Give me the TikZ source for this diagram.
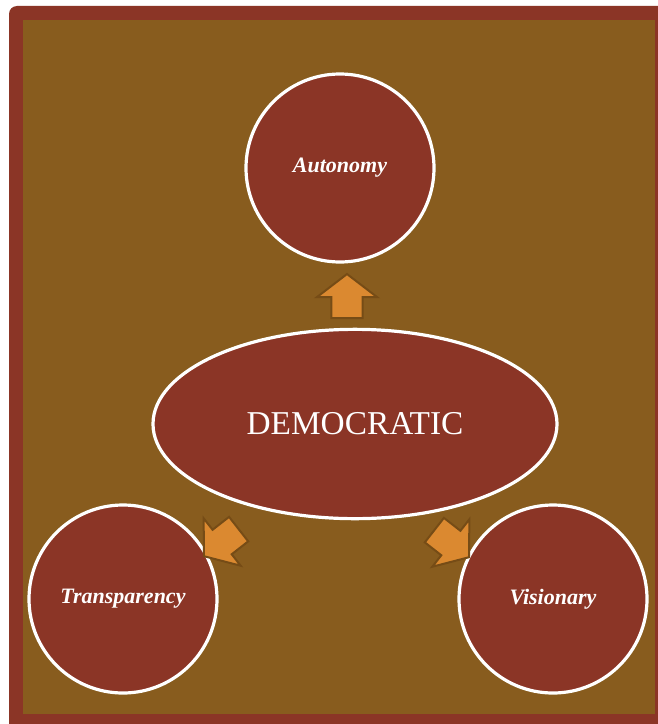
\documentclass[tikz,border=0pt]{standalone}
\usepackage{fontspec}
\setmainfont{Liberation Serif}
\usetikzlibrary{shapes.geometric,shapes.arrows}
\definecolor{frameRed}{RGB}{139,53,38}
\definecolor{bgBrown}{RGB}{136,92,30}
\definecolor{arrowOrange}{RGB}{219,137,48}
\definecolor{arrowEdge}{RGB}{118,76,22}
\tikzset{
  bubble/.style={circle, fill=frameRed, draw=white, line width=2.4pt, minimum size=141pt, inner sep=0pt, text=white, font=\bfseries\itshape\fontsize{16.5}{19}\selectfont},
  centerbubble/.style={ellipse, fill=frameRed, draw=white, line width=2.4pt, minimum width=303pt, minimum height=142pt, inner sep=0pt, text=white, font=\fontsize{25}{28}\selectfont},
  blockarrow/.style={single arrow, fill=arrowOrange, draw=arrowEdge, line width=1.5pt, minimum height=33pt, inner xsep=0pt, inner ysep=10.9pt, single arrow head extend=10.9pt, single arrow tip angle=105}
}
\begin{document}
\begin{tikzpicture}[x=0.75pt,y=-0.75pt]
\useasboundingbox (0,0) rectangle (657,724);
\fill[white] (0,0) rectangle (657,724);
\fill[frameRed, rounded corners=6pt] (9,6) rectangle (680,740);
\node[fill=bgBrown, inner sep=0pt, minimum width=474pt, minimum height=520.5pt, anchor=north west] (inner) at (23,20) {};
\node[bubble] (autonomy) at (340,168) {Autonomy};
\node[centerbubble] (democ) at (355,424) {DEMOCRATIC};
\node[bubble] (transp) at (123,599) {Transparency};
\node[bubble] (vision) at (553,599) {Visionary};
\node[blockarrow, rotate=90] (a1) at (347,302) {};
\node[blockarrow, rotate=-142] (a2) at (226,539) {};
\node[blockarrow, rotate=-38] (a3) at (447,540) {};
\end{tikzpicture}
\end{document}
